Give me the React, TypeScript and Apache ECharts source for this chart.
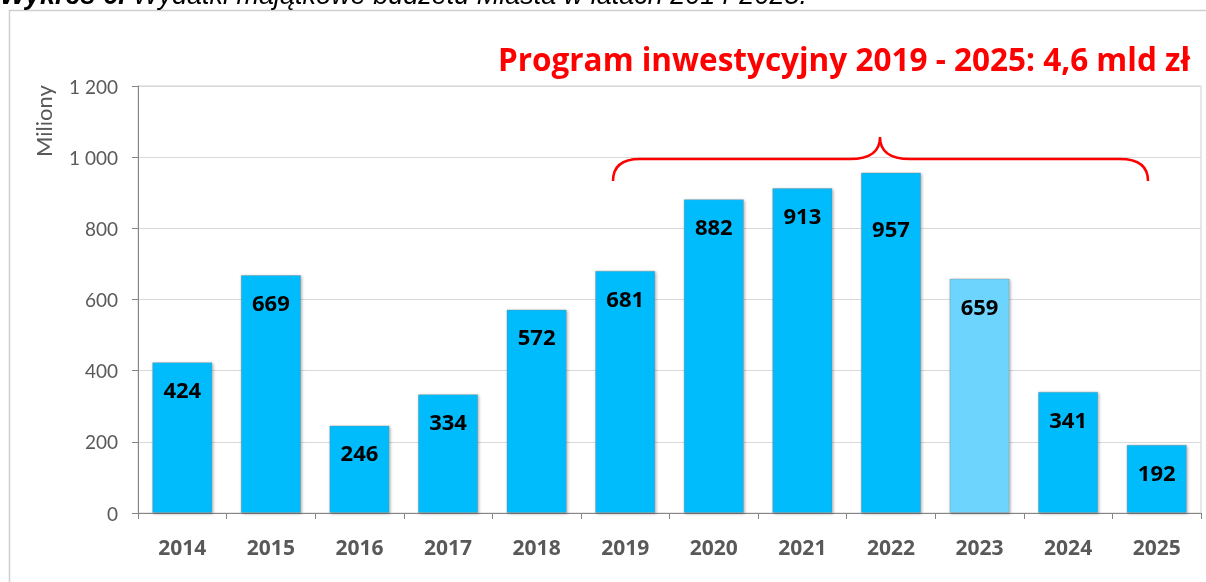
import React, { useEffect, useRef } from "react";
import * as echarts from "echarts";

const years = ["2014", "2015", "2016", "2017", "2018", "2019", "2020", "2021", "2022", "2023", "2024", "2025"];
const values = [424, 669, 246, 334, 572, 681, 882, 913, 957, 659, 341, 192];
const highlightYear = "2023";
const shiftedLabelYear = "2022";
const yTicks = { min: 0, max: 1200, interval: 200 };
const titleText = "Program inwestycyjny 2019 - 2025: 4,6 mld zł";
const captionBold = "Wykres 6.";
const captionRest = " Wydatki majątkowe budżetu Miasta w latach 2014-2025.";
const axisName = "Miliony";

const BRACE_D =
  "M613,181 C613,168 620,159 640,159 L850,159 C872,159 880,150 880,137 C880,150 888,159 910,159 L1120,159 C1140,159 1148,168 1148,181";

let registered = false;

export default function App() {
  const ref = useRef<HTMLDivElement>(null);
  useEffect(() => {
    if (!registered) {
      echarts.graphic.registerShape("brace", echarts.graphic.extendPath(BRACE_D, {}) as any);
      registered = true;
    }
    const chart = echarts.init(ref.current!, undefined, { renderer: "svg" });
    const data = years.map((y, i) => {
      const item: any = {
        value: values[i],
        itemStyle: { color: y === highlightYear ? "#6DD5FD" : "#05BCFC" },
      };
      if (y === shiftedLabelYear) item.label = { distance: 45 };
      return item;
    });
    chart.setOption({
      animation: false,
      grid: { left: 138, right: 5, top: 86, bottom: 69, show: true, borderColor: "#d0d0d0", borderWidth: 1 },
      xAxis: {
        type: "category",
        data: years,
        axisLine: { lineStyle: { color: "#868686" } },
        axisTick: { show: true, length: 6, lineStyle: { color: "#868686" } },
        axisLabel: { color: "#595959", fontSize: 21, fontWeight: "bold", fontFamily: "Open Sans", margin: 23 },
      },
      yAxis: {
        type: "value",
        min: yTicks.min,
        max: yTicks.max,
        interval: yTicks.interval,
        axisLine: { show: true, lineStyle: { color: "#868686" } },
        axisTick: { show: true, length: 6, lineStyle: { color: "#868686" } },
        splitLine: { lineStyle: { color: "#d9d9d9" } },
        axisLabel: {
          color: "#595959",
          fontSize: 19,
          fontFamily: "Lato",
          margin: 20,
          formatter: (v: number) => String(v).replace(/\B(?=(\d{3})+(?!\d))/g, " "),
        },
      },
      series: [
        {
          type: "bar",
          data,
          barCategoryGap: "32%",
          itemStyle: {
            borderColor: "rgba(120,120,120,0.35)",
            borderWidth: 1,
            shadowColor: "rgba(0,0,0,0.35)",
            shadowBlur: 3,
            shadowOffsetX: 1,
            shadowOffsetY: 1,
          },
          label: {
            show: true,
            position: "insideTop",
            distance: 16,
            color: "#000",
            fontSize: 22,
            fontWeight: "bold",
            fontFamily: "Open Sans",
          },
        },
      ],
      graphic: [
        {
          type: "rect",
          silent: true,
          shape: { x: 9.5, y: 10.5, width: 1300, height: 700 },
          style: { fill: "none", stroke: "#cfcfcf", lineWidth: 1.5 },
          z: -1,
        },
        {
          type: "text",
          x: 0,
          y: 8,
          style: {
            text: "{b|" + captionBold + "}{i|" + captionRest + "}",
            verticalAlign: "bottom",
            rich: {
              b: { fontFamily: "Liberation Sans", fontSize: 27, fontStyle: "italic", fontWeight: "bold", fill: "#000" },
              i: { fontFamily: "Liberation Sans", fontSize: 27, fontStyle: "italic", fill: "#000" },
            },
          },
        },
        {
          type: "text",
          x: 1190,
          y: 58,
          style: {
            text: titleText,
            fill: "#ff0000",
            fontSize: 31.5,
            fontWeight: "bold",
            fontFamily: "Open Sans",
            align: "right",
            verticalAlign: "middle",
          },
        },
        {
          type: "text",
          x: 43,
          y: 121,
          rotation: Math.PI / 2,
          style: {
            text: axisName,
            fill: "#595959",
            fontSize: 22,
            fontFamily: "Lato",
            align: "center",
            verticalAlign: "middle",
          },
        },
        {
          type: "brace",
          style: { fill: "none", stroke: "#ff0000", lineWidth: 2.5 },
          z: 100,
        } as any,
      ],
    });
    return () => chart.dispose();
  }, []);
  return <div ref={ref} style={{ position: "fixed", left: 0, top: 0, width: 1206, height: 582 }} />;
}
